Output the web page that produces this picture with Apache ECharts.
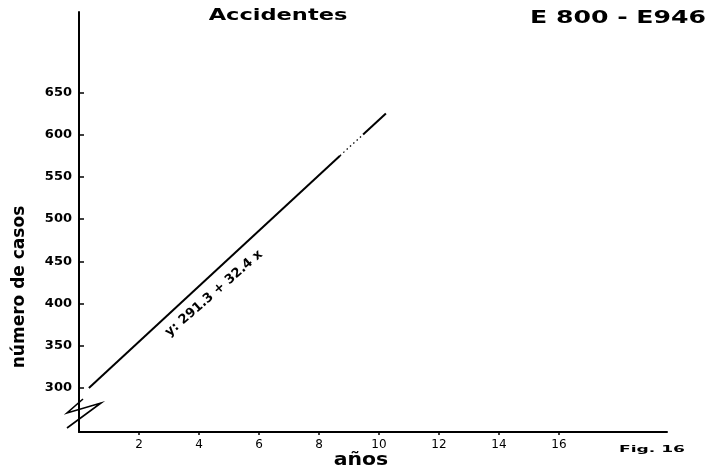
<!DOCTYPE html>
<html>
<head>
<meta charset="utf-8">
<script src="https://cdn.jsdelivr.net/npm/echarts@6/dist/echarts.min.js"></script>
<style>
  html, body { margin: 0; padding: 0; background: #fff; }
  #chart { width: 710px; height: 473px; }
</style>
</head>
<body>
<div id="chart"></div>
<script>
// ---- data ----
const xTickValues = [2, 4, 6, 8, 10, 12, 14, 16];
const yTickValues = [300, 350, 400, 450, 500, 550, 600, 650];
// regression line, drawn in three pieces (solid, dotted, solid)
const lineSolidA = [[0.33, 300], [8.7, 575]];
const lineDotted = [[8.7, 575], [9.47, 600]];
const lineSolidB = [[9.47, 600], [10.23, 625]];
const equationText = 'y: 291.3 + 32.4 x';
const equationAt = [4.5, 412];
const titleText = 'Accidentes';
const codeText = 'E 800 - E946';
const figText = 'Fig. 16';
const xName = 'años';
const yName = 'número de casos';

const chart = echarts.init(document.getElementById('chart'), null, { renderer: 'canvas' });
const ink = '#000';
const FONT = '"DejaVu Sans", sans-serif';

const option = {
  backgroundColor: '#fff',
  animation: false,
  grid: { left: 79, right: 43, top: 12, bottom: 41, containLabel: false },
  xAxis: {
    type: 'value', min: 0, max: 19.6,
    axisLine: { show: true, lineStyle: { color: ink, width: 2 } },
    axisTick: { show: true, inside: false, length: 3, lineStyle: { color: ink, width: 1.5 }, customValues: xTickValues },
    axisLabel: { show: true, color: ink, fontFamily: FONT, fontSize: 12, margin: 7, customValues: xTickValues },
    splitLine: { show: false }
  },
  yAxis: {
    type: 'value', min: 248, max: 745,
    axisLine: { show: true, onZero: false, lineStyle: { color: ink, width: 2 } },
    axisTick: { show: true, inside: true, length: 5, lineStyle: { color: ink, width: 1.5 }, customValues: yTickValues },
    axisLabel: { show: true, color: ink, fontFamily: FONT, fontSize: 13, fontWeight: 'bold', margin: 7, customValues: yTickValues },
    splitLine: { show: false }
  },
  series: [
    { type: 'line', data: lineSolidA, symbol: 'none', lineStyle: { color: ink, width: 2 } },
    { type: 'line', data: lineDotted, symbol: 'none', lineStyle: { color: ink, width: 1.3, type: [1.5, 3] } },
    { type: 'line', data: lineSolidB, symbol: 'none', lineStyle: { color: ink, width: 2 } }
  ]
};
chart.setOption(option);

const eq = chart.convertToPixel({ gridIndex: 0 }, equationAt);
const org = chart.convertToPixel({ gridIndex: 0 }, [0, 248]);
const ang = 41 * Math.PI / 180;

chart.setOption({
  graphic: [
    { type: 'text', x: 278, y: 16, scaleX: 1.5, style: { text: titleText, font: 'bold 15px ' + FONT, fill: ink, align: 'center', verticalAlign: 'middle' } },
    { type: 'text', x: 618, y: 19, scaleX: 1.48, style: { text: codeText, font: 'bold 17px ' + FONT, fill: ink, align: 'center', verticalAlign: 'middle' } },
    { type: 'text', x: 652, y: 450, scaleX: 1.9, style: { text: figText, font: 'bold 9px ' + FONT, fill: ink, align: 'center', verticalAlign: 'middle' } },
    { type: 'text', x: 361, y: 461, scaleX: 1.2, style: { text: xName, font: 'bold 17px ' + FONT, fill: ink, align: 'center', verticalAlign: 'middle' } },
    { type: 'text', x: 20, y: 287, rotation: Math.PI / 2, style: { text: yName, font: 'bold 17px ' + FONT, fill: ink, align: 'center', verticalAlign: 'middle' } },
    { type: 'text', x: eq[0], y: eq[1], rotation: ang, style: { text: equationText, font: 'bold 13px ' + FONT, fill: ink, align: 'center', verticalAlign: 'middle' } },
    { type: 'polyline', shape: { points: [[org[0] + 4, org[1] - 33], [org[0] - 12, org[1] - 19], [org[0] + 22, org[1] - 29], [org[0] - 12, org[1] - 4]] }, style: { stroke: ink, lineWidth: 1.6, fill: null } }
  ]
});
</script>
</body>
</html>
